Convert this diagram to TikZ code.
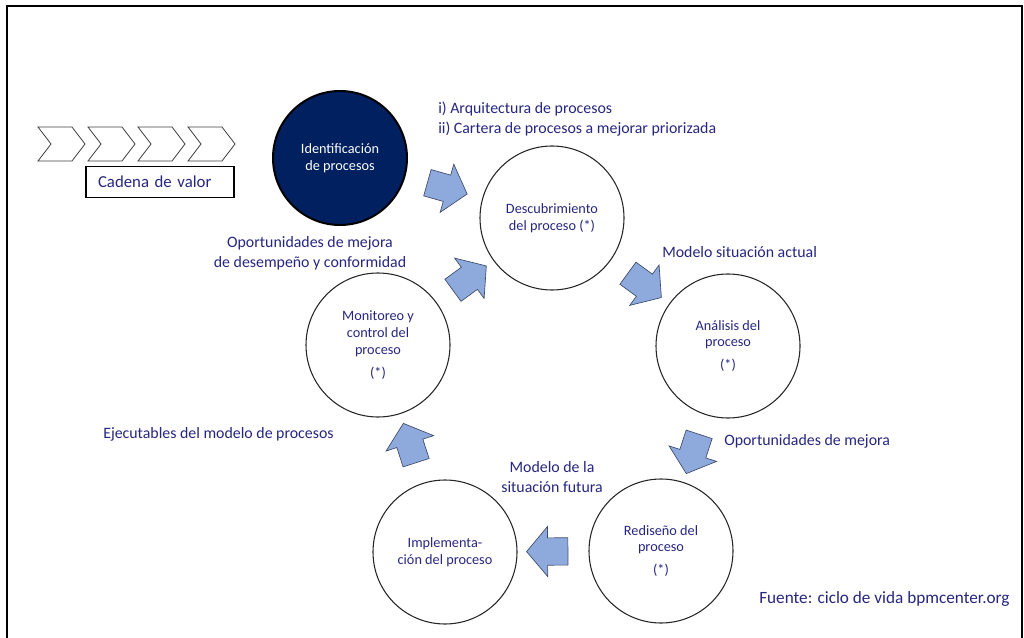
\documentclass[tikz,border=0pt]{standalone}
\usepackage{fontspec}
\setmainfont{Carlito}
\usetikzlibrary{shapes.arrows}
\definecolor{txt}{RGB}{38,38,128}
\definecolor{navy}{HTML}{002060}
\definecolor{arrowfill}{HTML}{8EA9DB}
\definecolor{arrowline}{HTML}{3F4B6B}
\begin{document}
\begin{tikzpicture}[x=0.75pt,y=-0.75pt,
  stage/.style={circle, draw=black!85, line width=0.8pt, minimum size=108pt, inner sep=0pt,
    align=center, text=txt, font=\fontsize{10.7}{12.6}\selectfont},
  lbl/.style={text=txt, font=\fontsize{11.9}{14.8}\selectfont, inner sep=0pt},
  onelbl/.style={lbl, text height=0.7em, text depth=0.22em},
  blockarrow/.style={single arrow, draw=arrowline, line width=0.5pt, fill=arrowfill,
    text height=20pt, text depth=0pt, text width=0pt, inner sep=0pt,
    minimum height=31pt, single arrow head extend=8.5pt,
    single arrow tip angle=100},
  chev/.style={draw=black!75, line width=0.6pt, fill=white},
  framebox/.style={draw=black, line width=1.1pt, text=txt, font=\fontsize{12.6}{15}\selectfont,
    minimum height=23.25pt, text width=93pt, inner xsep=9pt, align=left}
]
\useasboundingbox (0,0) rectangle (1024,638);
% frame
\draw[line width=1.6pt] (7,650) -- (7,6) -- (1022,6) -- (1022,650);

% chevrons (value chain)
\foreach \i in {0,1,2,3}{
  \pgfmathsetmacro{\xo}{38+50*\i}
  \draw[chev] (\xo,127) -- (\xo+34,127) -- (\xo+47,144) -- (\xo+34,161) -- (\xo,161) -- (\xo+13,144) -- cycle;
}
\node[framebox] (cadena) at (160,182) {Cadena de valor};

% stages
\node[stage, minimum size=100.5pt, fill=navy, draw=black, line width=1.5pt, text=white] (ident) at (340,158) {Identificación\\de procesos};
\node[stage] (desc) at (552,218) {Descubrimiento\\del proceso (*)};
\node[stage] (ana) at (728,346) {Análisis del\\proceso\\[4.5pt](*)};
\node[stage] (red) at (661,551) {Rediseño del\\proceso\\[4.5pt](*)};
\node[stage] (impl) at (445,552) {Implementa-\\ción del proceso};
\node[stage] (mon) at (378,345) {Monitoreo y\\control del\\proceso\\[4.5pt](*)};

% block arrows
\path (ident.center) -- (desc.center) node[pos=0.48, sloped, allow upside down, blockarrow] (a1) {};
\path (desc.center) -- (ana.center) node[midway, sloped, allow upside down, blockarrow] (a2) {};
\path (ana.center) -- (red.center) node[midway, sloped, allow upside down, blockarrow] (a3) {};
\path (red.center) -- (impl.center) node[midway, sloped, allow upside down, blockarrow] (a4) {};
\path (impl.center) -- (mon.center) node[midway, sloped, allow upside down, blockarrow] (a5) {};
\path (mon.center) -- (desc.center) node[midway, sloped, allow upside down, blockarrow] (a6) {};

% labels
\node[onelbl, anchor=west] (arq) at (438,110) {i) Arquitectura de procesos};
\node[onelbl, anchor=west] (cart) at (438,130) {ii) Cartera de procesos a mejorar priorizada};
\node[onelbl, anchor=west] (msa) at (662,254) {Modelo situación actual};
\node[onelbl, anchor=west] (opm) at (724,442) {Oportunidades de mejora};
\node[lbl, align=center] (msf) at (552,477) {Modelo de la\\situación futura};
\node[lbl, align=center] (opd) at (310,253) {Oportunidades de mejora\\de desempeño y conformidad};
\node[onelbl, anchor=west] (ejec) at (103,435) {Ejecutables del modelo de procesos};
\node[onelbl, anchor=west, font=\fontsize{12.9}{15}\selectfont] (fuente) at (759,600) {Fuente: ciclo de vida bpmcenter.org};
\end{tikzpicture}
\end{document}
